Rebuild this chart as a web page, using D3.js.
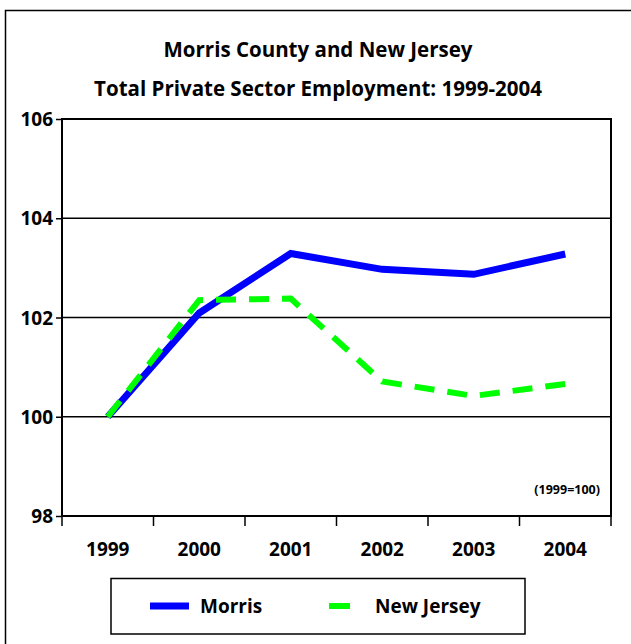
<!DOCTYPE html>
<html>
<head>
<meta charset="utf-8">
<script src="https://cdn.jsdelivr.net/npm/d3@7"></script>
<style>
  body { margin: 0; background: #fff; }
  text { font-family: "Comic Sans MS", "Open Sans", "DejaVu Sans", sans-serif; font-weight: bold; fill: #000; }
</style>
</head>
<body>
<div id="chart"></div>
<script>
const width = 631;
const height = 644;

const years = ["1999", "2000", "2001", "2002", "2003", "2004"];
const morris = [100, 102.09, 103.29, 102.97, 102.87, 103.28];
const newJersey = [100, 102.35, 102.38, 100.71, 100.42, 100.66];
const yTicks = [98, 100, 102, 104, 106];

const plot = {left: 62, right: 611, top: 119, bottom: 516};

const svg = d3.select("#chart")
  .append("svg")
    .attr("width", width)
    .attr("height", height);

// outer frame (runs off the right and bottom edge)
svg.append("rect")
  .attr("x", 5.5).attr("y", 10.5)
  .attr("width", 640).attr("height", 660)
  .attr("fill", "none")
  .attr("stroke", "#000")
  .attr("stroke-width", 1.5);

// title
svg.append("text")
  .attr("x", 318).attr("y", 57)
  .attr("text-anchor", "middle")
  .style("font-size", "20.5px")
  .text("Morris County and New Jersey");
svg.append("text")
  .attr("x", 318).attr("y", 96)
  .attr("text-anchor", "middle")
  .style("font-size", "20.5px")
  .text("Total Private Sector Employment: 1999-2004");

const x = d3.scaleBand()
  .domain(years)
  .range([plot.left, plot.right]);

const y = d3.scaleLinear()
  .domain([98, 106])
  .range([plot.bottom, plot.top]);

// gridlines
svg.append("g")
  .selectAll("line")
  .data(yTicks.filter(d => d > 98 && d < 106))
  .enter()
  .append("line")
    .attr("x1", plot.left).attr("x2", plot.right)
    .attr("y1", d => y(d)).attr("y2", d => y(d))
    .attr("stroke", "#000")
    .attr("stroke-width", 1.3);

// plot frame
svg.append("rect")
  .attr("x", plot.left).attr("y", plot.top)
  .attr("width", plot.right - plot.left)
  .attr("height", plot.bottom - plot.top)
  .attr("fill", "none")
  .attr("stroke", "#000")
  .attr("stroke-width", 2);

// y axis
const yAxis = svg.append("g")
  .attr("transform", "translate(" + plot.left + ",0)")
  .call(d3.axisLeft(y).tickValues(yTicks).tickSize(6).tickPadding(3));
yAxis.select(".domain").remove();
yAxis.selectAll("line").attr("stroke", "#000").attr("stroke-width", 1.5);
yAxis.selectAll("text").style("font-size", "19px").attr("dy", "0.35em");

// x axis: ticks on category boundaries
svg.append("g")
  .selectAll("line")
  .data(years.map(d => x(d)).concat([plot.right]))
  .enter()
  .append("line")
    .attr("x1", d => d).attr("x2", d => d)
    .attr("y1", plot.bottom).attr("y2", plot.bottom + 10)
    .attr("stroke", "#000")
    .attr("stroke-width", 1.5);

svg.append("g")
  .selectAll("text")
  .data(years)
  .enter()
  .append("text")
    .attr("x", d => x(d) + x.bandwidth() / 2)
    .attr("y", 556)
    .attr("text-anchor", "middle")
    .style("font-size", "19px")
    .text(d => d);

svg.append("text")
  .attr("x", 600).attr("y", 494)
  .attr("text-anchor", "end")
  .style("font-size", "12.5px")
  .text("(1999=100)");

const line = d3.line()
  .x((d, i) => x(years[i]) + x.bandwidth() / 2)
  .y(d => y(d));

svg.append("path")
  .datum(morris)
  .attr("d", line)
  .attr("fill", "none")
  .attr("stroke", "#0000ff")
  .attr("stroke-width", 7);

svg.append("path")
  .datum(newJersey)
  .attr("d", line)
  .attr("fill", "none")
  .attr("stroke", "#00ff00")
  .attr("stroke-width", 6)
  .attr("stroke-dasharray", "20,13");

// legend
const legend = svg.append("g");
legend.append("rect")
  .attr("x", 111).attr("y", 578.5)
  .attr("width", 414).attr("height", 55.5)
  .attr("fill", "none")
  .attr("stroke", "#000")
  .attr("stroke-width", 1.5);
legend.append("line")
  .attr("x1", 150).attr("x2", 189)
  .attr("y1", 606).attr("y2", 606)
  .attr("stroke", "#0000ff").attr("stroke-width", 7);
legend.append("line")
  .attr("x1", 329).attr("x2", 350)
  .attr("y1", 606).attr("y2", 606)
  .attr("stroke", "#00ff00").attr("stroke-width", 6);
legend.append("text")
  .attr("x", 200).attr("y", 613)
  .style("font-size", "19px")
  .text("Morris");
legend.append("text")
  .attr("x", 375).attr("y", 613)
  .style("font-size", "19px")
  .text("New Jersey");
</script>
</body>
</html>
